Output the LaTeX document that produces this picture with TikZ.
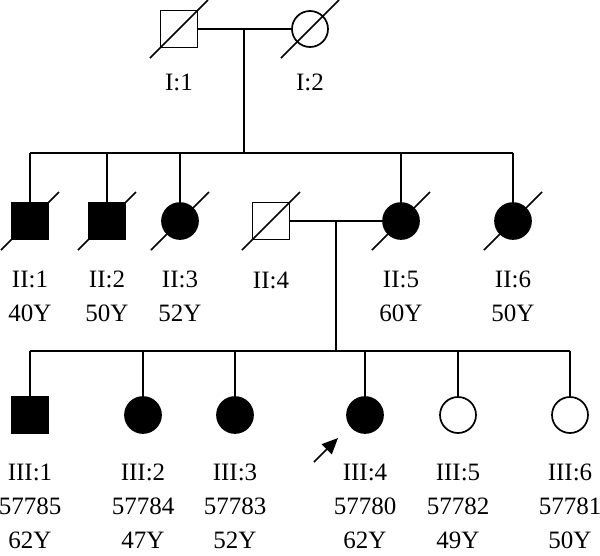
\documentclass[tikz,border=0pt]{standalone}
\usepackage{fontspec}
\setmainfont{Liberation Serif}
\usetikzlibrary{arrows.meta}

\tikzset{
  male/.style={draw, rectangle, minimum size=37pt, inner sep=0pt},
  female/.style={draw, circle, minimum size=36pt, inner sep=0pt},
  affected/.style={fill=black},
  lbl/.style={align=center, inner sep=0pt, font=\fontsize{25}{34}\selectfont},
}
\newcommand{\deceased}[1]{\draw (#1) ++(-29,29) -- ++(58,-58);}

\begin{document}
\begin{tikzpicture}[x=1pt, y=-1pt, line width=1.7pt]
\useasboundingbox (0,0) rectangle (600,555);
% --- Generation I ---
\node[male] (i1) at (179,29) {};
\node[female] (i2) at (310,29) {};
\deceased{i1} \deceased{i2}
\draw (i1) -- (i2);
\coordinate (d1) at (244,29);
\node[lbl] (li1) at (179,82) {I:1};
\node[lbl] (li2) at (310,82) {I:2};
% --- Generation II ---
\coordinate (s2) at (30,153);
\coordinate (s2r) at (513,153);
\draw (s2) -- (s2r);
\draw (d1) -- (d1 |- s2);
\node[male, affected] (ii1) at (30,221) {};
\node[male, affected] (ii2) at (107,221) {};
\node[female, affected] (ii3) at (180,221) {};
\node[male] (ii4) at (271,221) {};
\node[female, affected] (ii5) at (401,221) {};
\node[female, affected] (ii6) at (513,221) {};
\deceased{ii1} \deceased{ii2} \deceased{ii3}
\deceased{ii4} \deceased{ii5} \deceased{ii6}
\draw (ii1.north) -- (ii1.north |- s2);
\draw (ii2.north) -- (ii2.north |- s2);
\draw (ii3.north) -- (ii3.north |- s2);
\draw (ii5.north) -- (ii5.north |- s2);
\draw (ii6.north) -- (ii6.north |- s2);
\draw (ii4) -- (ii5);
\coordinate (d2) at (336,221);
\node[lbl] (lii1) at (30,296) {II:1\\40Y};
\node[lbl] (lii2) at (107,296) {II:2\\50Y};
\node[lbl] (lii3) at (180,296) {II:3\\52Y};
\node[lbl] (lii4) at (271,280) {II:4};
\node[lbl] (lii5) at (401,296) {II:5\\60Y};
\node[lbl] (lii6) at (513,296) {II:6\\50Y};
% --- Generation III ---
\coordinate (s3) at (30,351);
\coordinate (s3r) at (570,351);
\draw (s3) -- (s3r);
\draw (d2) -- (d2 |- s3);
\node[male, affected] (iii1) at (30,415) {};
\node[female, affected] (iii2) at (143,415) {};
\node[female, affected] (iii3) at (235,415) {};
\node[female, affected] (iii4) at (365,415) {};
\node[female] (iii5) at (458,415) {};
\node[female] (iii6) at (570,415) {};
\draw (iii1.north) -- (iii1.north |- s3);
\draw (iii2.north) -- (iii2.north |- s3);
\draw (iii3.north) -- (iii3.north |- s3);
\draw (iii4.north) -- (iii4.north |- s3);
\draw (iii5.north) -- (iii5.north |- s3);
\draw (iii6.north) -- (iii6.north |- s3);
\node[lbl] (liii1) at (30,506) {III:1\\57785\\62Y};
\node[lbl] (liii2) at (143,506) {III:2\\57784\\47Y};
\node[lbl] (liii3) at (235,506) {III:3\\57783\\52Y};
\node[lbl] (liii4) at (365,506) {III:4\\57780\\62Y};
\node[lbl] (liii5) at (458,506) {III:5\\57782\\49Y};
\node[lbl] (liii6) at (570,506) {III:6\\57781\\50Y};
% proband arrow
\coordinate (pa) at (314,462);
\coordinate (pb) at (338,438);
\draw[-{Triangle[length=16pt, width=14pt]}] (pa) -- (pb);
\end{tikzpicture}
\end{document}
